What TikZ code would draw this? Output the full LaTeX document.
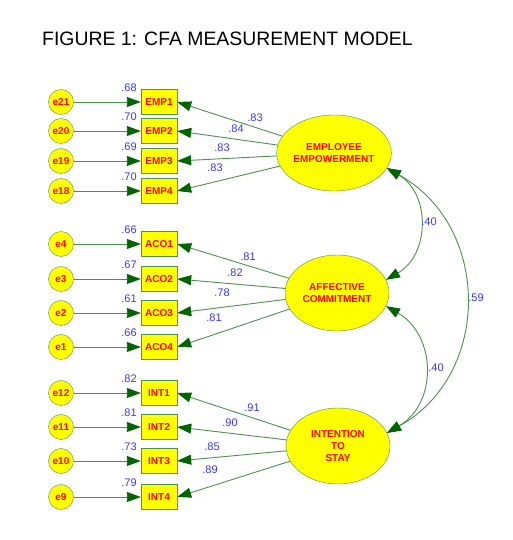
\documentclass[tikz,border=0pt]{standalone}
\usepackage{fontspec}
\setmainfont{Liberation Sans}
\usetikzlibrary{arrows.meta,shapes.geometric}
\definecolor{lg}{HTML}{4E9250}
\definecolor{dg}{HTML}{006400}
\definecolor{yel}{HTML}{FFFF00}
\definecolor{blu}{HTML}{3A3AF0}
\definecolor{rd}{HTML}{FF0000}
\begin{document}
\begin{tikzpicture}[x=1pt,y=1pt,
 errnode/.style={circle,draw=lg,fill=yel,minimum size=25pt,inner sep=0pt,font=\fontsize{10}{10}\selectfont\bfseries,text=rd},
 obsnode/.style={rectangle,draw=lg,fill=yel,minimum width=36pt,minimum height=25pt,inner sep=0pt,font=\fontsize{10}{10}\selectfont\bfseries,text=rd},
 latnode/.style={ellipse,draw=lg,fill=yel,minimum width=104pt,minimum height=76pt,inner sep=0pt,font=\fontsize{10}{12.3}\selectfont\bfseries,text=rd,align=center},
 conn/.style={draw=lg,line width=0.9pt,-{Triangle[length=14pt,width=10pt,color=dg]}},
 dconn/.style={draw=lg,line width=0.9pt,{Triangle[length=14pt,width=10pt,color=dg]}-{Triangle[length=14pt,width=10pt,color=dg]}},
 coef/.style={font=\fontsize{11}{11}\selectfont,text=blu,inner sep=0pt}]
\useasboundingbox (0,0) rectangle (512,540);
\fill[white] (0,0) rectangle (512,540);

\node[anchor=base west,inner sep=0pt,font=\fontsize{19.4}{20}\selectfont] (title) at (42,494) {FIGURE 1: CFA MEASUREMENT MODEL};

% latent variables
\node[latnode] (EE) at (334,387) {EMPLOYEE\\EMPOWERMENT};
\node[latnode] (AC) at (337,247) {AFFECTIVE\\COMMITMENT};
\node[latnode] (ITS) at (338,94) {INTENTION\\TO\\STAY};

% EMP block
\foreach \i/\y/\e/\r/\l/\lx/\ly in {1/438/21/.68/.83/255/422, 2/409/20/.70/.84/236/411, 3/379/19/.69/.83/222/392, 4/349/18/.70/.83/215/372}{
  \node[obsnode] (EMP\i) at (159,\y) {EMP\i};
  \node[errnode] (e\e) at (61,\y) {e\e};
  \draw[conn] (e\e) -- (EMP\i);
  \draw[conn] (EE) -- (EMP\i.east);
  \node[coef] (rEMP\i) at ([shift={(-30,14)}]EMP\i.center) {\r};
  \node[coef] (lEMP\i) at (\lx,\ly) {\l};
}
% ACO block
\foreach \i/\y/\e/\r/\l/\lx/\ly in {1/296/4/.66/.81/248/283, 2/261/3/.67/.82/235/267, 3/227/2/.61/.78/222/247, 4/193/1/.66/.81/214/222}{
  \node[obsnode] (ACO\i) at (159,\y) {ACO\i};
  \node[errnode] (e\e) at (61,\y) {e\e};
  \draw[conn] (e\e) -- (ACO\i);
  \draw[conn] (AC) -- (ACO\i.east);
  \node[coef] (rACO\i) at ([shift={(-30,14)}]ACO\i.center) {\r};
  \node[coef] (lACO\i) at (\lx,\ly) {\l};
}
% INT block
\foreach \i/\y/\e/\r/\l/\lx/\ly in {1/147/12/.82/.91/252/132, 2/113/11/.81/.90/230/117, 3/79/10/.73/.85/212/93, 4/43/9/.79/.89/210/70}{
  \node[obsnode] (INT\i) at (159,\y) {INT\i};
  \node[errnode] (e\e) at (61,\y) {e\e};
  \draw[conn] (e\e) -- (INT\i);
  \draw[conn] (ITS) -- (INT\i.east);
  \node[coef] (rINT\i) at ([shift={(-30,14)}]INT\i.center) {\r};
  \node[coef] (lINT\i) at (\lx,\ly) {\l};
}

% correlations
\draw[dconn] (EE.-16) to[out=-30,in=30,looseness=1.16] (AC.15);
\draw[dconn] (AC.-15) to[out=-30,in=30,looseness=1.18] (ITS.15);
\draw[dconn] (EE.-16) to[out=-29,in=29,looseness=1.16] (ITS.15);
\node[coef] (c1) at (429,318) {.40};
\node[coef] (c2) at (436,172) {.40};
\node[coef] (c3) at (476,242) {.59};
\end{tikzpicture}
\end{document}
